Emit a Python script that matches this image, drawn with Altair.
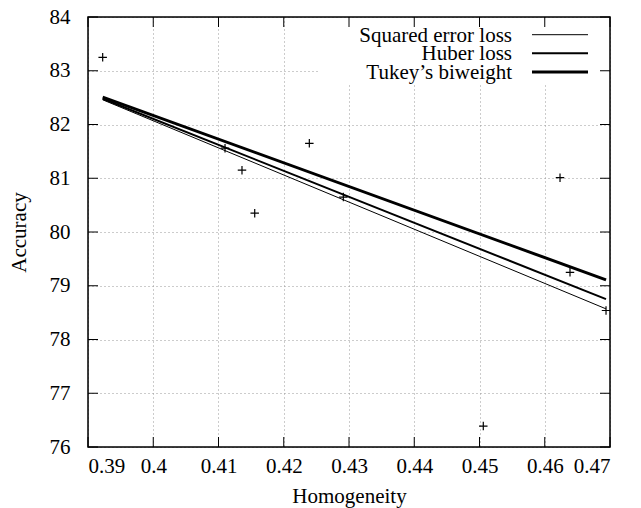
import altair as alt
import pandas as pd

# Data points (Homogeneity vs Accuracy)
hom = [0.39225, 0.4110, 0.4136, 0.41555, 0.42392, 0.42913, 0.46234, 0.46387, 0.46939, 0.45058]
acc = [83.25, 81.56, 81.15, 80.35, 81.65, 80.65, 81.01, 79.25, 78.54, 76.39]

# Fitted lines (endpoints at data x-range)
fit_names = ["Squared error loss", "Huber loss", "Tukey\u2019s biweight"]
fit_x = [0.39225, 0.46939]
fit_y_start = [82.46, 82.48, 82.51]
fit_y_end = [78.57, 78.75, 79.11]
fit_widths = [1.0, 2.0, 3.0]

x_ticks = [0.39, 0.40, 0.41, 0.42, 0.43, 0.44, 0.45, 0.46, 0.47]
y_ticks = [76, 77, 78, 79, 80, 81, 82, 83, 84]

W, H = 522, 430
FONT = "Liberation Serif"
FS = 21

pts = pd.DataFrame({"x": hom, "y": acc})
rows = []
for n, y0, y1, w in zip(fit_names, fit_y_start, fit_y_end, fit_widths):
    rows.append({"name": n, "x": fit_x[0], "y": y0, "w": w})
    rows.append({"name": n, "x": fit_x[1], "y": y1, "w": w})
lines = pd.DataFrame(rows)

xs = alt.Scale(domain=[0.39, 0.47], nice=False, zero=False)
ys = alt.Scale(domain=[76, 84], nice=False, zero=False)

xaxis = alt.Axis(values=x_ticks, format=".2~f", tickSize=0, domain=False, grid=True,
                 gridDash=[1, 3], gridColor="#999999", gridWidth=1,
                 labelFont=FONT, labelFontSize=FS, labelPadding=8, labelColor="black",
                 title="Homogeneity", titleFont=FONT, titleFontSize=FS, titleFontWeight="normal",
                 titleColor="black", titlePadding=9)
yaxis = alt.Axis(values=y_ticks, format="d", tickSize=0, domain=False, grid=True,
                 gridDash=[1, 3], gridColor="#999999", gridWidth=1,
                 labelFont=FONT, labelFontSize=FS, labelPadding=18, labelColor="black",
                 title="Accuracy", titleFont=FONT, titleFontSize=FS, titleFontWeight="normal",
                 titleColor="black", titlePadding=20)

base_pts = alt.Chart(pts).mark_point(
    shape="M-1,0H1M0,-1V1", size=72, stroke="black", strokeWidth=1.2, filled=False, opacity=1
).encode(
    x=alt.X("x:Q", scale=xs, axis=xaxis),
    y=alt.Y("y:Q", scale=ys, axis=yaxis),
)

fit = alt.Chart(lines).mark_line(color="black").encode(
    x=alt.X("x:Q", scale=xs),
    y=alt.Y("y:Q", scale=ys),
    detail="name:N",
    strokeWidth=alt.StrokeWidth("w:Q", scale=None, legend=None),
)

one = pd.DataFrame({"a": [0]})
legend_bg = alt.Chart(one).mark_rect(fill="white", stroke=None).encode(
    x=alt.value(230), x2=alt.value(W - 1), y=alt.value(1), y2=alt.value(66)
)

leg = pd.DataFrame({"name": fit_names, "ly": [17.7, 36.3, 54.9], "w": fit_widths})
leg_text = alt.Chart(leg).mark_text(
    align="right", baseline="middle", font=FONT, fontSize=FS, color="black", dy=1
).encode(x=alt.value(424), y=alt.Y("ly:Q", scale=None), text="name:N")
leg_line = alt.Chart(leg).mark_rule(color="black").encode(
    x=alt.value(444), x2=alt.value(500), y=alt.Y("ly:Q", scale=None),
    strokeWidth=alt.StrokeWidth("w:Q", scale=None, legend=None),
)

xt = pd.DataFrame({"t": x_ticks})
yt = pd.DataFrame({"t": y_ticks})
tick_len = 10
xb = alt.Chart(xt).mark_rule(color="black", strokeWidth=1).encode(
    x=alt.X("t:Q", scale=xs), y=alt.value(H), y2=alt.value(H - tick_len))
xtp = alt.Chart(xt).mark_rule(color="black", strokeWidth=1).encode(
    x=alt.X("t:Q", scale=xs), y=alt.value(0), y2=alt.value(tick_len))
yl = alt.Chart(yt).mark_rule(color="black", strokeWidth=1).encode(
    y=alt.Y("t:Q", scale=ys), x=alt.value(0), x2=alt.value(tick_len))
yr = alt.Chart(yt).mark_rule(color="black", strokeWidth=1).encode(
    y=alt.Y("t:Q", scale=ys), x=alt.value(W - tick_len), x2=alt.value(W))

border = alt.Chart(one).mark_rect(fill=None, stroke="black", strokeWidth=1.5).encode(
    x=alt.value(0), x2=alt.value(W), y=alt.value(0), y2=alt.value(H)
)

chart = alt.layer(
    base_pts, fit, legend_bg, leg_line, leg_text, xb, xtp, yl, yr, border
).properties(
    width=W, height=H,
    padding={"left": 80, "top": 9, "right": 20, "bottom": 61},
    autosize="none",
).configure_view(stroke=None).configure(background="white")

chart.save("out.html", embed_options={"renderer": "svg", "actions": False})
